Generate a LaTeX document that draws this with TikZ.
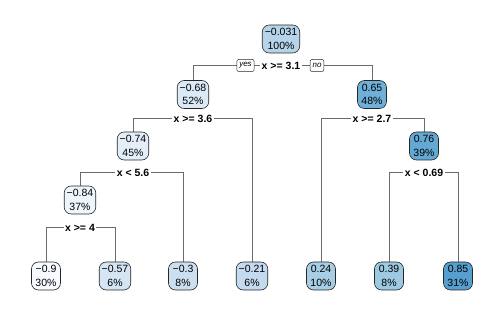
\documentclass[tikz,border=0pt]{standalone}
\usepackage{fontspec}
\setmainfont{Liberation Sans}
\usetikzlibrary{backgrounds}
\definecolor{c1}{HTML}{F7FBFF}
\definecolor{c2}{HTML}{EFF5FC}
\definecolor{c3}{HTML}{E3EEF9}
\definecolor{c4}{HTML}{DCEAF7}
\definecolor{c5}{HTML}{D5E5F4}
\definecolor{c6}{HTML}{CCDFF1}
\definecolor{c7}{HTML}{C4DAEE}
\definecolor{c8}{HTML}{B6D4E9}
\definecolor{c9}{HTML}{A7CEE4}
\definecolor{c10}{HTML}{9DC9E1}
\definecolor{c11}{HTML}{6FAFD8}
\definecolor{c12}{HTML}{64A8D4}
\definecolor{c13}{HTML}{569FCF}
\tikzset{
  nd/.style={draw=black!85, line width=0.6pt, rounded corners=7pt, align=center,
    inner xsep=2.5pt, inner ysep=2pt, minimum height=28pt, minimum width=29pt,
    font=\fontsize{10.5}{13.5}\selectfont},
  spl/.style={fill=white, inner xsep=1.5pt, inner ysep=1pt,
    font=\bfseries\fontsize{10.5}{12}\selectfont},
  yn/.style={draw=black!85, fill=white, line width=0.5pt, rounded corners=2pt,
    inner xsep=2.5pt, inner ysep=1pt, minimum height=12pt,
    font=\itshape\fontsize{8}{9}\selectfont},
  edge/.style={draw=black!58, line width=1pt}
}
\begin{document}
\begin{tikzpicture}[x=1pt,y=-1pt]
\useasboundingbox (0,0) rectangle (504,315);
% internal nodes
\node[nd, fill=c8] (n1) at (281,39) {−0.031\\100\%};
\node[nd, fill=c4] (n2) at (193,94.5) {−0.68\\52\%};
\node[nd, fill=c11] (n3) at (372,94.5) {0.65\\48\%};
\node[nd, fill=c3] (n4) at (133,146) {−0.74\\45\%};
\node[nd, fill=c12] (n7) at (424,146) {0.76\\39\%};
\node[nd, fill=c2] (n8) at (80,200) {−0.84\\37\%};
% leaves
\node[nd, fill=c1] (l1) at (46,276) {−0.9\\30\%};
\node[nd, fill=c5] (l2) at (115,276) {−0.57\\6\%};
\node[nd, fill=c6] (l3) at (183,276) {−0.3\\8\%};
\node[nd, fill=c7] (l4) at (252,276) {−0.21\\6\%};
\node[nd, fill=c9] (l5) at (321,276) {0.24\\10\%};
\node[nd, fill=c10] (l6) at (389,276) {0.39\\8\%};
\node[nd, fill=c13] (l7) at (458,276) {0.85\\31\%};
% split labels
\node[spl] (s1) at (281,66) {x >= 3.1};
\node[spl] (s2) at (193,119) {x >= 3.6};
\node[spl] (s3) at (372,119) {x >= 2.7};
\node[spl] (s4) at (133,173) {x < 5.6};
\node[spl] (s7) at (424,173) {x < 0.69};
\node[spl] (s8) at (80,228) {x >= 4};
\node[yn] (yes) at (245.5,65.5) {yes};
\node[yn] (no) at (317,65.5) {no};
\begin{scope}[on background layer]
\draw[edge] (s1.center) -| (n2.north);
\draw[edge] (s1.center) -| (n3.north);
\draw[edge] (s2.center) -| (n4.north);
\draw[edge] (s2.center) -| (l4.north);
\draw[edge] (s3.center) -| (l5.north);
\draw[edge] (s3.center) -| (n7.north);
\draw[edge] (s4.center) -| (n8.north);
\draw[edge] (s4.center) -| (l3.north);
\draw[edge] (s7.center) -| (l6.north);
\draw[edge] (s7.center) -| (l7.north);
\draw[edge] (s8.center) -| (l1.north);
\draw[edge] (s8.center) -| (l2.north);
\end{scope}
\end{tikzpicture}
\end{document}
